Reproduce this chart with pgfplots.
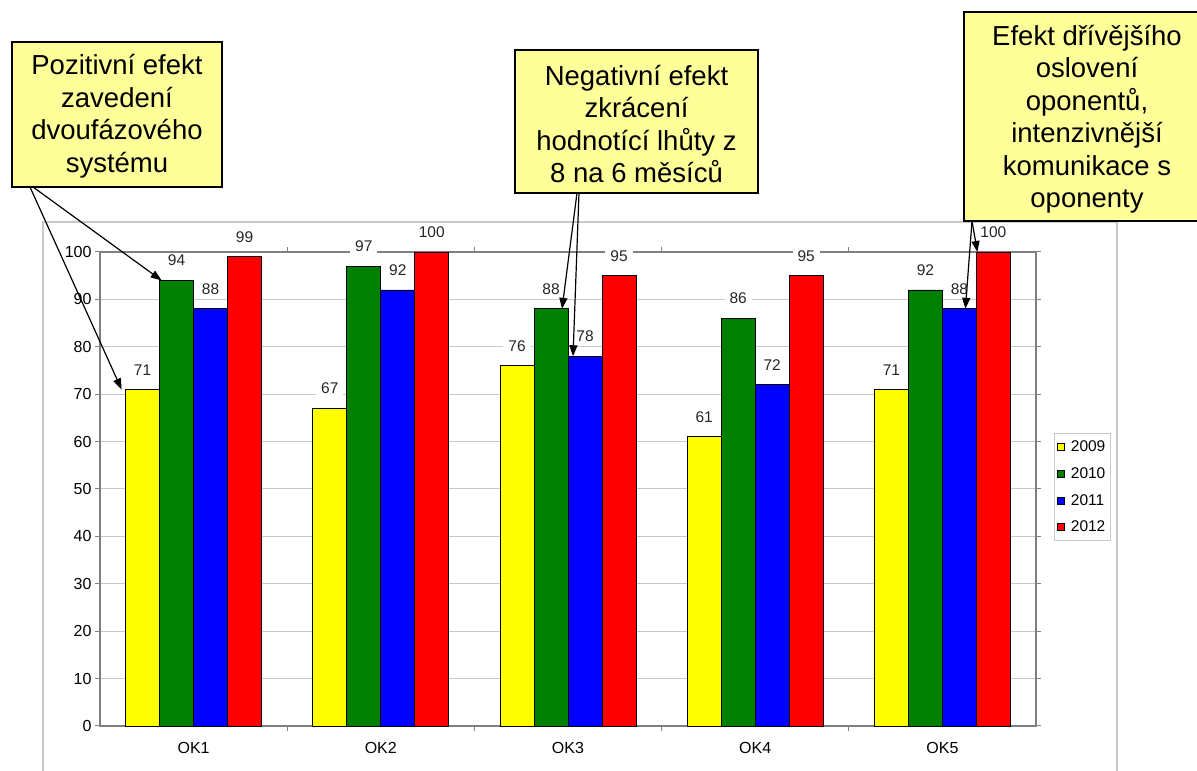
\documentclass[border=0pt]{standalone}
\usepackage{fontspec}
\setmainfont{Liberation Sans}
\usepackage{pgfplots}
\pgfplotsset{compat=1.18}
\usetikzlibrary{arrows.meta}
\definecolor{callout}{RGB}{255,255,153}
\definecolor{gridc}{RGB}{200,200,200}
\definecolor{axc}{RGB}{128,128,128}
\definecolor{cyel}{RGB}{255,255,0}
\definecolor{cgrn}{RGB}{0,128,0}
\definecolor{cblu}{RGB}{0,0,255}
\definecolor{cred}{RGB}{255,0,0}
\begin{document}
\begin{tikzpicture}[font=\fontsize{15.5}{18}\selectfont]
\path[use as bounding box] (0pt,0pt) rectangle (1197pt,771pt);
\draw[gridc, line width=1.2pt] (43pt,-10pt) -- (43pt,549pt) -- (1117pt,549pt) -- (1117pt,-10pt);
\begin{axis}[
  at={(100pt,45pt)}, anchor=south west,
  scale only axis, width=936pt, height=474pt,
  xmin=-0.5, xmax=4.5, ymin=0, ymax=100,
  ybar=0pt, bar width=34pt,
  xtick={0,1,2,3,4}, xticklabels={OK1,OK2,OK3,OK4,OK5},
  minor xtick={0.5,1.5,2.5,3.5},
  major x tick style={draw=none},
  ytick={0,10,...,100},
  ymajorgrids, grid style={gridc, line width=1pt},
  tick align=outside, major tick length=5pt, minor tick length=5pt,
  tick style={axc, line width=1pt},
  axis line style={axc, line width=1.2pt},
  ticklabel style={font=\fontsize{16}{18}\selectfont},
  xticklabel style={yshift=-8pt},
  /pgf/number format/assume math mode=true,
  nodes near coords,
  every node near coord/.append style={fill=white, inner xsep=5pt, inner ysep=2pt, anchor=south, yshift=12pt, text=black!85, font=\fontsize{15.5}{18}\selectfont},
  clip=false,
  every axis plot/.append style={draw=black, line width=0.8pt},
  legend style={at={(1.019,0.618)}, anchor=north west, draw=gridc, line width=1pt, fill=white,
    font=\fontsize{15.5}{18}\selectfont, row sep=10.5pt, inner xsep=3pt, inner ysep=5pt,
    /tikz/every odd column/.append style={column sep=4pt}},
  legend cell align=left,
  legend image code/.code={\draw[#1, draw=black, line width=0.6pt] (0pt,-3.5pt) rectangle (7pt,3.5pt);},
]
\addplot[fill=cyel] coordinates {(0,71) (1,67) (2,76) (3,61) (4,71)};
\addplot[fill=cgrn] coordinates {(0,94) (1,97) (2,88) (3,86) (4,92)};
\addplot[fill=cblu] coordinates {(0,88) (1,92) (2,78) (3,72) (4,88)};
\addplot[fill=cred] coordinates {(0,99) (1,100) (2,95) (3,95) (4,100)};
\legend{2009,2010,2011,2012}
\coordinate (t1) at ([xshift=-72pt]axis cs:0,71);
\coordinate (t2) at ([xshift=-32pt]axis cs:0,94);
\coordinate (t3) at ([xshift=-6pt]axis cs:2,88);
\coordinate (t4) at ([xshift=5pt]axis cs:2,78);
\coordinate (t5) at ([xshift=35pt]axis cs:4,100);
\coordinate (t6) at ([xshift=23pt]axis cs:4,88);
\end{axis}
% callouts
\begin{scope}[every node/.style={font=\fontsize{27.5}{32.5}\selectfont, align=center, text=black}]
\draw[fill=callout, line width=1.3pt] (12pt,584pt) rectangle (222pt,729pt);
\node at (117pt,655pt) {Pozitivní efekt\\zavedení\\dvoufázového\\systému};
\draw[fill=callout, line width=1.3pt] (515pt,578pt) rectangle (758pt,721pt);
\node at (636.5pt,647pt) {Negativní efekt\\zkrácení\\hodnotící lhůty z\\8 na 6 měsíců};
\draw[fill=callout, line width=1.3pt] (964pt,550pt) rectangle (1212pt,759pt);
\node at (1087pt,652pt) {Efekt dřívějšího\\oslovení\\oponentů,\\intenzivnější\\komunikace s\\oponenty};
\end{scope}
\begin{scope}[line width=1.2pt, -{Triangle[length=11pt,width=8pt]}]
\draw (30pt,584pt) -- (t1);
\draw (33pt,584pt) -- (t2);
\draw (577pt,578pt) -- (t3);
\draw (579pt,578pt) -- (t4);
\draw (972pt,550pt) -- (t5);
\draw (972pt,550pt) -- (t6);
\end{scope}
\end{tikzpicture}
\end{document}
